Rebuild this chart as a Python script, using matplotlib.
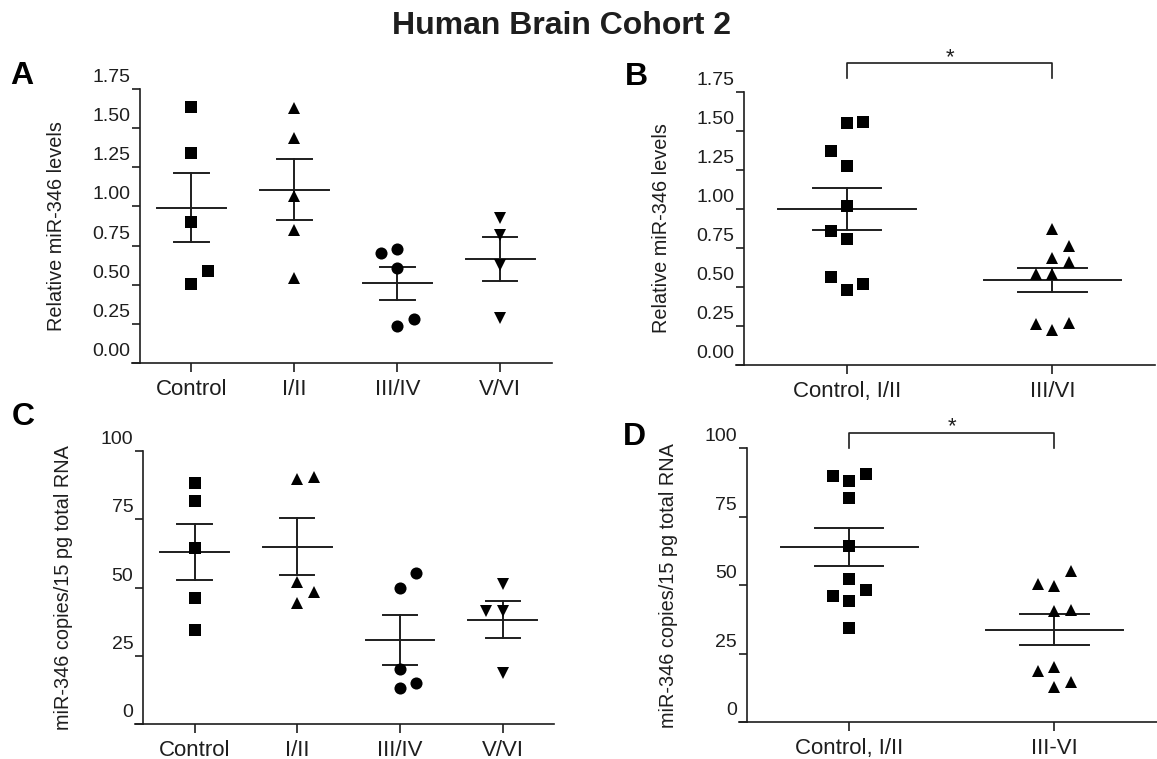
import numpy as np
import matplotlib
matplotlib.use("Agg")
import matplotlib.pyplot as plt
from matplotlib import transforms
from matplotlib.lines import Line2D

plt.rcParams["font.family"] = ["Liberation Sans", "DejaVu Sans"]

INK = "#1e1e1e"

# ---- Panel A: relative miR-346 by Braak stage ----
a_groups = ["Control", "I/II", "III/IV", "V/VI"]
a_control = [1.637, 1.339, 0.898, 0.589, 0.502]
a_stage12 = [1.626, 1.439, 1.069, 0.849, 0.545]
a_stage34 = [0.700, 0.726, 0.605, 0.279, 0.236]
a_stage56 = [0.924, 0.817, 0.626, 0.285]
a_slots = [[0, 0, 0, 1, 0], [0, 0, 0, 0, 0], [-1, 0, 0, 1, 0], [0, 0, 0, 0]]

# ---- Panel B: relative miR-346, pooled stages ----
b_groups = ["Control, I/II", "III/VI"]
b_early = [1.551, 1.558, 1.372, 1.274, 1.020, 0.856, 0.807, 0.563, 0.519, 0.480]
b_late = [0.871, 0.762, 0.687, 0.661, 0.581, 0.581, 0.262, 0.267, 0.224]
b_slots = [[0, 1, -1, 0, 0, -1, 0, -1, 1, 0], [0, 1, 0, 1, -1, 0, -1, 1, 0]]

# ---- Panel C: absolute copies by Braak stage ----
c_groups = ["Control", "I/II", "III/IV", "V/VI"]
c_control = [88.2, 81.8, 64.6, 46.3, 34.5]
c_stage12 = [89.8, 90.6, 52.0, 48.3, 44.3]
c_stage34 = [55.4, 50.0, 20.1, 15.0, 13.2]
c_stage56 = [51.2, 41.6, 41.6, 18.9]
c_slots = [[0, 0, 0, 0, 0], [0, 1, 0, 1, 0], [1, 0, 0, 1, 0], [0, -1, 0, 0]]

# ---- Panel D: absolute copies, pooled stages ----
d_groups = ["Control, I/II", "III-VI"]
d_early = [90.0, 90.6, 88.2, 81.8, 64.5, 52.3, 48.3, 46.2, 44.4, 34.3]
d_late = [55.2, 50.5, 49.9, 40.7, 41.0, 18.7, 20.1, 14.8, 13.0]
d_slots = [[-1, 1, 0, 0, 0, 0, 1, -1, 0, 0], [1, -1, 0, 0, 1, -1, 0, 1, 0]]

rel_ticks = [0.0, 0.25, 0.5, 0.75, 1.0, 1.25, 1.5, 1.75]
rel_labels = ["0.00", "0.25", "0.50", "0.75", "1.00", "1.25", "1.50", "1.75"]
copy_ticks = [0, 25, 50, 75, 100]
copy_labels = ["0", "25", "50", "75", "100"]

fig = plt.figure(figsize=(11.57, 7.59), dpi=100)
FW, FH = 1157, 759

MARKER_SIZE = {"s": 8.4, "o": 8.7, "^": 9.0, "v": 9.0}


def px_axes(left, top, right, bottom):
    return fig.add_axes([left / FW, 1 - bottom / FH, (right - left) / FW, (bottom - top) / FH])


def scatter_panel(ax, groups, series, slots, markers, jitter, ylim, ticks, labels,
                  ylabel, ylabel_x):
    n = len(groups)
    for i, (vals, slot, mk) in enumerate(zip(series, slots, markers)):
        vals = np.asarray(vals, dtype=float)
        xs = i + jitter * np.asarray(slot, dtype=float)
        ax.plot(xs, vals, linestyle="none", marker=mk, ms=MARKER_SIZE[mk], color="black",
                markeredgewidth=0, zorder=3, clip_on=False)
        mean = vals.mean()
        sem = vals.std(ddof=1) / np.sqrt(len(vals))
        ax.plot([i - 0.335, i + 0.335], [mean, mean], color=INK, lw=1.4, zorder=2)
        ax.plot([i - 0.167, i + 0.167], [mean + sem] * 2, color=INK, lw=1.4, zorder=2)
        ax.plot([i - 0.167, i + 0.167], [mean - sem] * 2, color=INK, lw=1.4, zorder=2)
        ax.plot([i, i], [mean - sem, mean + sem], color=INK, lw=1.4, zorder=2)

    ax.set_xlim(-0.5, n - 0.5)
    ax.set_ylim(*ylim)
    ax.set_xticks(range(n))
    ax.set_xticklabels(groups, fontsize=16, color=INK)
    ax.set_yticks(ticks)
    ax.set_yticklabels(labels, fontsize=14, color=INK)
    for side in ("top", "right"):
        ax.spines[side].set_visible(False)
    for side in ("left", "bottom"):
        ax.spines[side].set_linewidth(1.2)
        ax.spines[side].set_color(INK)
    ax.tick_params(axis="y", direction="out", length=5.8, width=1.2, color=INK, pad=1.3)
    ax.tick_params(axis="x", direction="out", length=6.3, width=1.2, color=INK, pad=5.0)

    # y tick labels sit slightly above their tick marks
    lift = transforms.ScaledTranslation(0, 0.135, fig.dpi_scale_trans)
    for tk in ax.yaxis.get_major_ticks():
        tk.label1.set_transform(tk.label1.get_transform() + lift)

    ax.set_ylabel(ylabel, fontsize=14.3, color=INK)
    ax.yaxis.set_label_coords(ylabel_x, 0.5)

    # baseline continues left under the y tick marks
    w_px = ax.get_position().width * FW
    ax.add_line(Line2D([-8.0 / w_px, 0], [0, 0], transform=ax.transAxes,
                       color=INK, lw=1.2, clip_on=False))


def bracket(ax, y_line, y_leg, star_y):
    ax.plot([0, 0, 1, 1], [y_leg, y_line, y_line, y_leg], color=INK, lw=1.2,
            clip_on=False)
    ax.text(0.5, star_y, "*", ha="center", va="baseline", fontsize=16,
            color=INK, clip_on=False)


# A
axA = px_axes(140, 89, 551.7, 363)
scatter_panel(axA, a_groups, [a_control, a_stage12, a_stage34, a_stage56], a_slots,
              ["s", "^", "o", "v"], 0.16, (0, 1.75), rel_ticks, rel_labels,
              "Relative miR-346 levels", -0.18)

# B
axB = px_axes(744.3, 91.7, 1155, 365)
scatter_panel(axB, b_groups, [b_early, b_late], b_slots, ["s", "^"], 0.08,
              (0, 1.75), rel_ticks, rel_labels, "Relative miR-346 levels", -0.178)
bracket(axB, 1.935, 1.835, 1.935)

# C
axC = px_axes(143.3, 451, 554, 724.3)
scatter_panel(axC, c_groups, [c_control, c_stage12, c_stage34, c_stage56], c_slots,
              ["s", "^", "o", "v"], 0.16, (0, 100), copy_ticks, copy_labels,
              "miR-346 copies/15 pg total RNA", -0.172)

# D
axD = px_axes(746.7, 448.3, 1156.8, 722.3)
scatter_panel(axD, d_groups, [d_early, d_late], d_slots, ["s", "^"], 0.08,
              (0, 100), copy_ticks, copy_labels,
              "miR-346 copies/15 pg total RNA", -0.1675)
bracket(axD, 105.7, 100, 105.7)

# figure title and panel letters
fig.text(561 / FW, 1 - 34.3 / FH, "Human Brain Cohort 2", ha="center",
         va="baseline", fontsize=23, fontweight="bold", color=INK)
for letter, x, yb in [("A", 10, 84.3), ("B", 625, 85), ("C", 12, 425), ("D", 623, 445)]:
    fig.text(x / FW, 1 - yb / FH, letter, ha="left", va="baseline", fontsize=23,
             fontweight="bold", color="black")

fig.savefig("out.png", dpi=100)
